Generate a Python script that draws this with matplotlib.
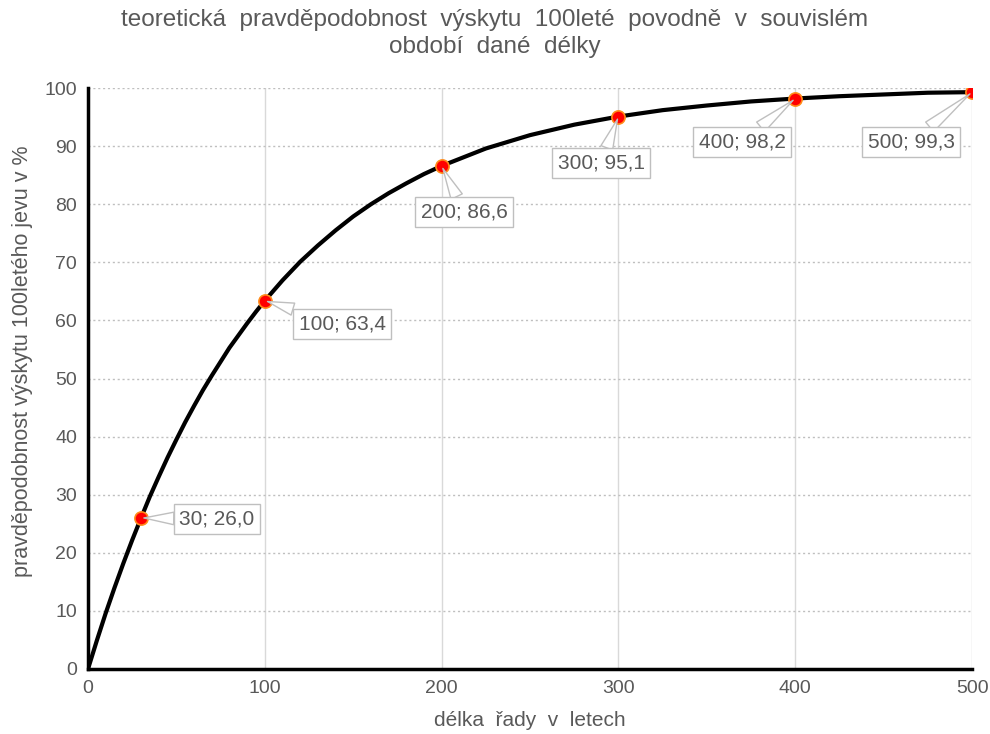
import numpy as np
import matplotlib.pyplot as plt

plt.rcParams['font.family'] = ['Liberation Sans', 'DejaVu Sans']

# curve values (years, probability in %)
years = [0, 5, 10, 15, 20, 25, 30, 35, 40, 45, 50, 55, 60, 65, 70, 75, 80, 85, 90, 95,
         100, 110, 120, 130, 140, 150, 160, 170, 180, 190, 200, 225, 250, 275, 300,
         325, 350, 375, 400, 425, 450, 475, 500]
prob = [0, 4.9, 9.6, 14.0, 18.2, 22.2, 26.0, 29.7, 33.1, 36.4, 39.5, 42.5, 45.3, 48.0,
        50.5, 52.9, 55.3, 57.4, 59.5, 61.5, 63.4, 66.9, 70.1, 72.9, 75.5, 77.9, 80.0,
        81.9, 83.6, 85.2, 86.6, 89.6, 91.9, 93.7, 95.1, 96.2, 97.0, 97.7, 98.2, 98.6,
        98.9, 99.2, 99.3]

# highlighted points
pt_x = [30, 100, 200, 300, 400, 500]
pt_y = [26.0, 63.4, 86.6, 95.1, 98.2, 99.3]
pt_labels = ["30; 26,0", "100; 63,4", "200; 86,6", "300; 95,1", "400; 98,2", "500; 99,3"]
label_pos = [(73, 25.8), (143.7, 59.4), (212.7, 78.7), (290.2, 87.1), (369.9, 90.7), (465.5, 90.7)]

gray = "#595959"

fig = plt.figure(figsize=(9.9, 7.34), dpi=100)
ax = fig.add_axes([0.0889, 0.0886, 0.893, 0.7914])

ax.plot(years, prob, color="black", linewidth=3, zorder=3, solid_joinstyle="round")
ax.scatter(pt_x, pt_y, s=90, color="#ff0000", edgecolors="#ff8c1a", linewidths=1.2, zorder=4)

for x, y, lab, (tx, ty) in zip(pt_x, pt_y, pt_labels, label_pos):
    ax.annotate(lab, xy=(x, y), xytext=(tx, ty), textcoords="data",
                ha="center", va="center", fontsize=15, color=gray, zorder=5,
                bbox=dict(boxstyle="square,pad=0.25", fc="white", ec="#bfbfbf", lw=1),
                arrowprops=dict(arrowstyle="wedge,tail_width=0.6,shrink_factor=0.5",
                                fc="white", ec="#bfbfbf", lw=1, shrinkA=0, shrinkB=2))

ax.set_xlim(0, 500)
ax.set_ylim(0, 100)
ax.set_xticks(range(0, 501, 100))
ax.set_yticks(range(0, 101, 10))

ax.grid(axis="y", linestyle=(0, (1.5, 2)), color="#bfbfbf", linewidth=1)
ax.grid(axis="x", linestyle="-", color="#d9d9d9", linewidth=1)
ax.set_axisbelow(True)

for s in ["top", "right"]:
    ax.spines[s].set_visible(False)
for s in ["left", "bottom"]:
    ax.spines[s].set_color("black")
    ax.spines[s].set_linewidth(2.5)

ax.tick_params(length=0, labelsize=14, labelcolor=gray, pad=8)

ax.set_xlabel("délka  řady  v  letech", fontsize=15, color=gray, labelpad=10)
ax.set_ylabel("pravděpodobnost výskytu 100letého jevu v %", fontsize=15.5, color=gray)
ax.yaxis.set_label_coords(-0.062, 0.53)

fig.text(0.5, 0.954, "teoretická  pravděpodobnost  výskytu  100leté  povodně  v  souvislém\nobdobí  dané  délky",
         ha="center", va="center", fontsize=17.5, color=gray, linespacing=1.3)

fig.savefig("out.png", dpi=100)
